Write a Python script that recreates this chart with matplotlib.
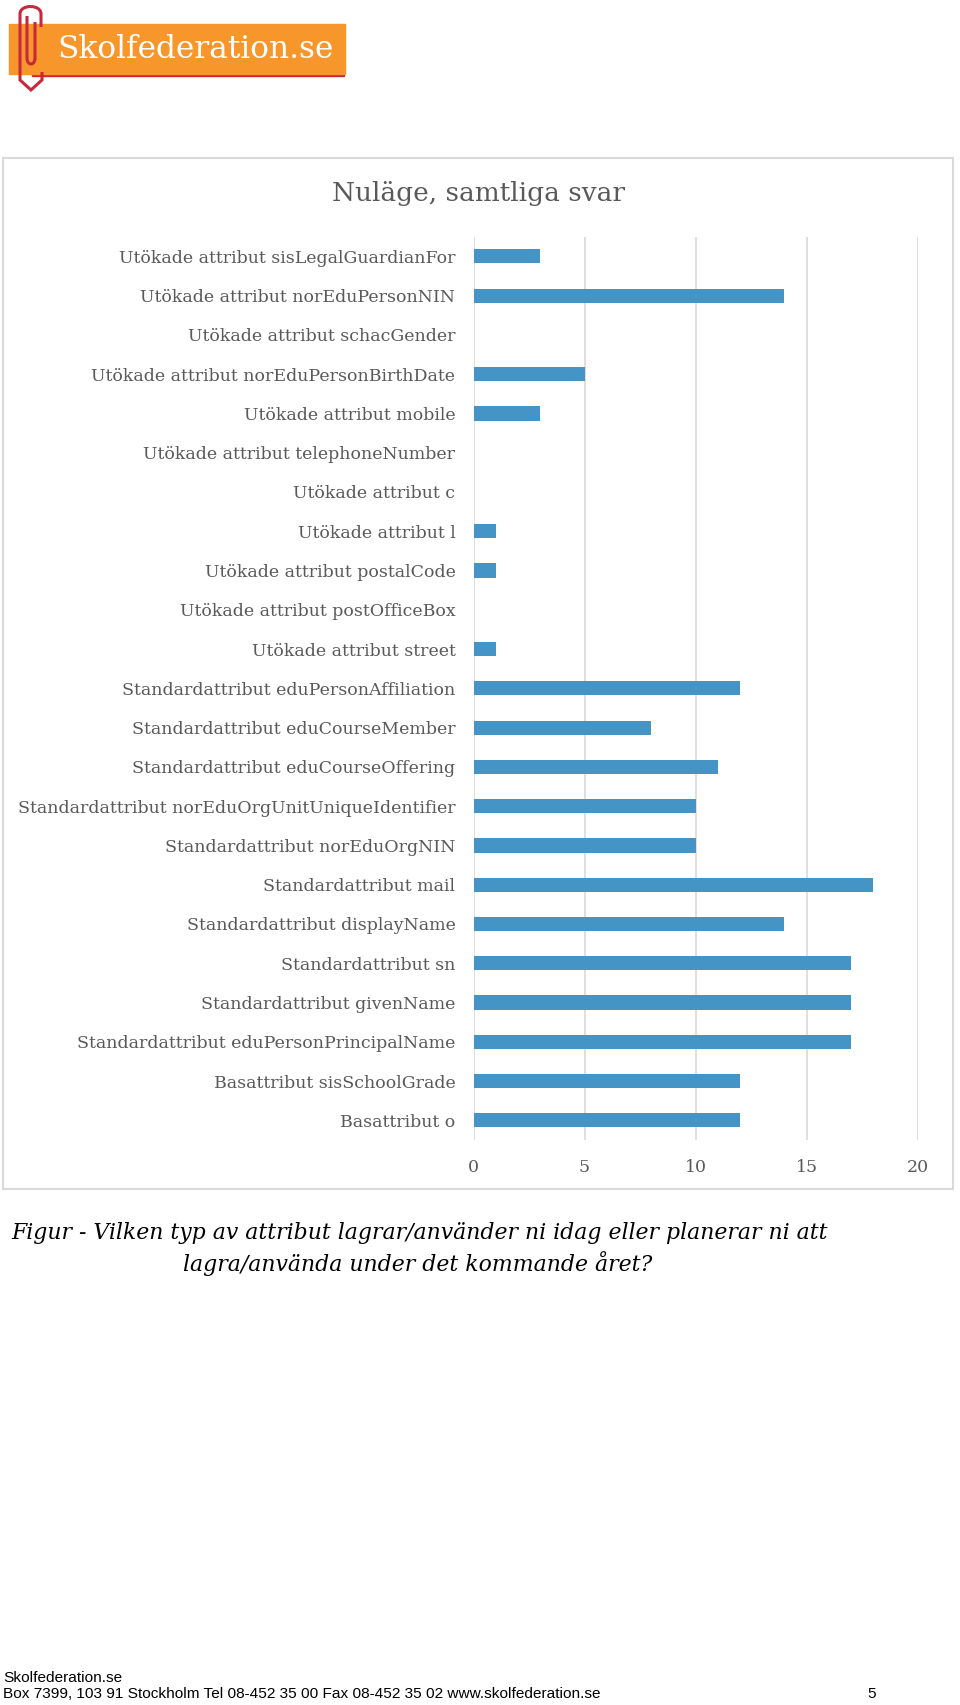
import matplotlib.pyplot as plt
import numpy as np
from matplotlib.patches import Rectangle
from matplotlib.path import Path
from matplotlib.patches import PathPatch

# Data (top to bottom as shown)
categories = [
    'Utökade attribut sisLegalGuardianFor',
    'Utökade attribut norEduPersonNIN',
    'Utökade attribut schacGender',
    'Utökade attribut norEduPersonBirthDate',
    'Utökade attribut mobile',
    'Utökade attribut telephoneNumber',
    'Utökade attribut c',
    'Utökade attribut l',
    'Utökade attribut postalCode',
    'Utökade attribut postOfficeBox',
    'Utökade attribut street',
    'Standardattribut eduPersonAffiliation',
    'Standardattribut eduCourseMember',
    'Standardattribut eduCourseOffering',
    'Standardattribut norEduOrgUnitUniqueIdentifier',
    'Standardattribut norEduOrgNIN',
    'Standardattribut mail',
    'Standardattribut displayName',
    'Standardattribut sn',
    'Standardattribut givenName',
    'Standardattribut eduPersonPrincipalName',
    'Basattribut sisSchoolGrade',
    'Basattribut o',
]
values = [3, 14, 0, 5, 3, 0, 0, 1, 1, 0, 1, 12, 8, 11, 10, 10, 18, 14, 17, 17, 17, 12, 12]
x_ticks = [0, 5, 10, 15, 20]

title = 'Nuläge, samtliga svar'
caption1 = 'Figur - Vilken typ av attribut lagrar/använder ni idag eller planerar ni att'
caption2 = 'lagra/använda under det kommande året?'
footer1 = 'Skolfederation.se'
footer2 = 'Box 7399, 103 91 Stockholm Tel 08-452 35 00 Fax 08-452 35 02 www.skolfederation.se'

W, H = 960, 1705
grey = '#595959'
bar_col = '#4594C6'

fig = plt.figure(figsize=(W / 100, H / 100), dpi=100)

# background axes in pixel coords for the page decorations
bg = fig.add_axes([0, 0, 1, 1], zorder=0)
bg.set_xlim(0, W)
bg.set_ylim(H, 0)
bg.axis('off')

# logo
bg.add_patch(Rectangle((32, 72), 312, 4, color='#C8283C', zorder=1))
bg.add_patch(Rectangle((9, 24), 336, 50, color='#F7962B', zorder=2))
bg.text(57, 50, 'Skolfederation.se', color='white', fontsize=22.5,
        family='DejaVu Serif', va='center', ha='left', zorder=3)
clip_outer = Path([(41, 27), (41, 14), (41, 4), (20, 4), (20, 14), (20, 80),
                   (31, 90), (42, 80), (42, 72)],
                  [Path.MOVETO, Path.LINETO, Path.CURVE4, Path.CURVE4, Path.CURVE4,
                   Path.LINETO, Path.LINETO, Path.LINETO, Path.LINETO])
clip_inner = Path([(35, 22), (35, 58), (35, 66), (27, 66), (27, 58), (27, 16)],
                  [Path.MOVETO, Path.LINETO, Path.CURVE4, Path.CURVE4, Path.CURVE4,
                   Path.LINETO])
for p in (clip_outer, clip_inner):
    bg.add_patch(PathPatch(p, fill=False, edgecolor='#C8283C', lw=2.2, zorder=4))

# chart frame
bg.add_patch(Rectangle((3, 158), 950, 1031, fill=False, edgecolor='#D9D9D9', lw=1.5, zorder=1))
bg.text(479, 193, title, color=grey, fontsize=19, family='DejaVu Serif',
        ha='center', va='center', zorder=3)

# caption and footer
bg.text(11, 1233, caption1, fontsize=15.8, style='italic', family='DejaVu Serif',
        ha='left', va='center')
bg.text(418, 1264, caption2, fontsize=15.8, style='italic', family='DejaVu Serif',
        ha='center', va='center')
bg.text(3, 1678, footer1, fontsize=11.1, family='Liberation Sans', ha='left', va='center')
bg.text(3, 1694, footer2, fontsize=11.1, family='Liberation Sans', ha='left', va='center')
bg.text(872, 1694, '5', fontsize=11.1, family='Liberation Sans', ha='center', va='center')

# the bar chart
ax = fig.add_axes([473.5 / W, 1 - 1140 / H, (917.7 - 473.5) / W, (1140 - 236.7) / H], zorder=1)
ax.patch.set_alpha(0)
y = np.arange(len(categories))
ax.barh(y, values, height=0.36, color=bar_col, lw=0, zorder=3)
ax.set_ylim(len(categories) - 0.5, -0.5)
ax.set_xlim(0, 20)
ax.set_yticks(y)
ax.set_yticklabels(categories, family='DejaVu Serif', fontsize=12.5, color=grey)
ax.set_xticks(x_ticks)
ax.set_xticklabels([str(t) for t in x_ticks], family='DejaVu Serif', fontsize=12.5, color=grey)
ax.tick_params(axis='y', length=0, pad=13)
ax.tick_params(axis='x', length=0, pad=14)
ax.grid(axis='x', color='#D9D9D9', lw=1.2, zorder=0)
for s in ax.spines.values():
    s.set_visible(False)

fig.savefig('out.png', dpi=100)
